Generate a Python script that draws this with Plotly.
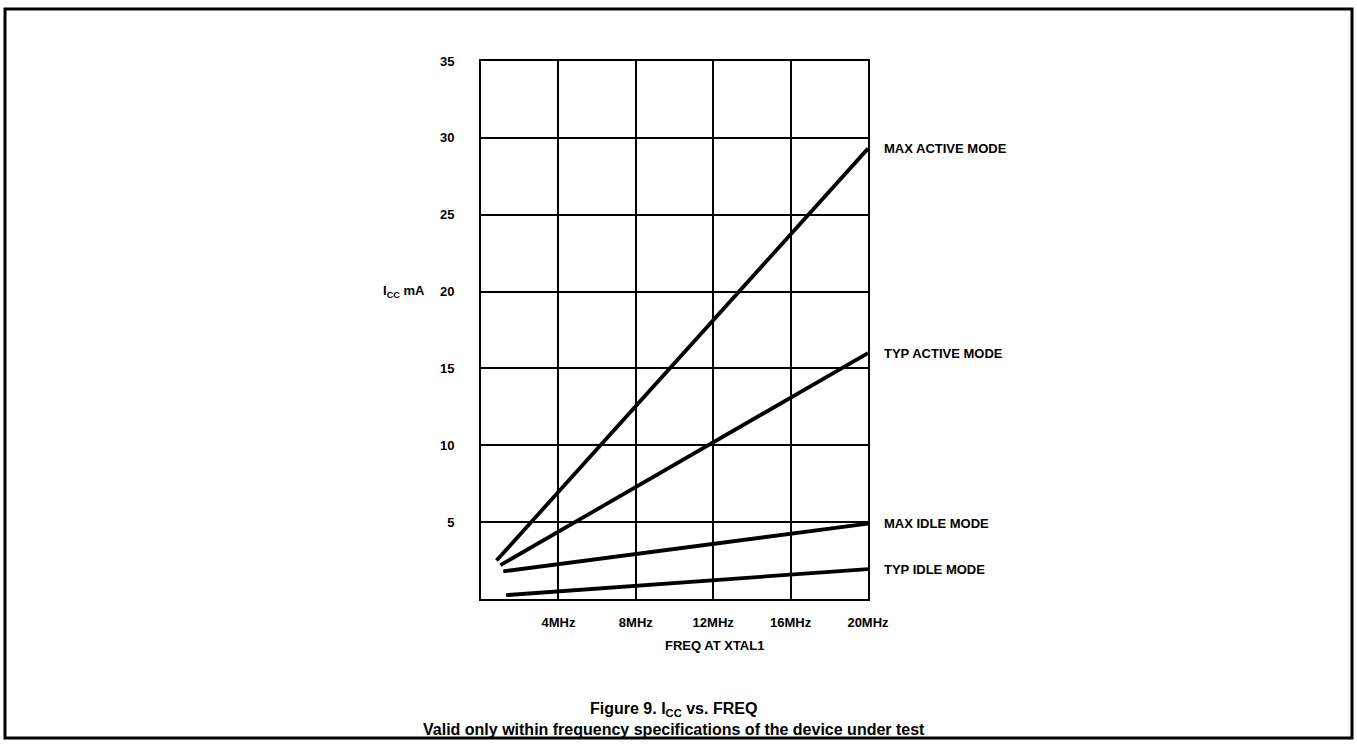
import plotly.graph_objects as go

# Data (frequency in MHz, current in mA)
series_names = ["MAX ACTIVE MODE", "TYP ACTIVE MODE", "MAX IDLE MODE", "TYP IDLE MODE"]
max_active_freq = [0.8, 20]
max_active_icc = [2.5, 29.3]
typ_active_freq = [1.0, 20]
typ_active_icc = [2.2, 16.0]
max_idle_freq = [1.15, 20]
max_idle_icc = [1.8, 4.9]
typ_idle_freq = [1.3, 20]
typ_idle_icc = [0.25, 1.95]

x_tick_vals = [4, 8, 12, 16, 20]
x_tick_text = ["4MHz", "8MHz", "12MHz", "16MHz", "20MHz"]
y_tick_vals = [5, 10, 15, 20, 25, 30, 35]

FONT = "Liberation Sans, Arial, Helvetica, sans-serif"

fig = go.Figure()
all_series = [
    (max_active_freq, max_active_icc),
    (typ_active_freq, typ_active_icc),
    (max_idle_freq, max_idle_icc),
    (typ_idle_freq, typ_idle_icc),
]
for name, (fx, fy) in zip(series_names, all_series):
    fig.add_trace(go.Scatter(x=fx, y=fy, mode="lines", name=name,
                             line=dict(color="black", width=3.8),
                             showlegend=False, hoverinfo="skip"))
    fig.add_annotation(x=fx[-1], y=fy[-1], xref="x", yref="y",
                       text="<b>%s</b>" % name, showarrow=False,
                       xanchor="left", yanchor="middle", xshift=14,
                       font=dict(family=FONT, size=13, color="black"))

fig.update_xaxes(range=[0, 20], tickvals=x_tick_vals, ticktext=x_tick_text,
                 showgrid=True, gridcolor="black", gridwidth=2,
                 showline=True, linecolor="black", linewidth=2, mirror=True,
                 zeroline=False, ticks="", ticklabelstandoff=10,
                 tickfont=dict(family=FONT, size=13, color="black", weight="bold"))
fig.update_yaxes(range=[0, 35], tickvals=y_tick_vals,
                 showgrid=True, gridcolor="black", gridwidth=2,
                 showline=True, linecolor="black", linewidth=2, mirror=True,
                 zeroline=False, ticks="", ticklabelstandoff=22,
                 tickfont=dict(family=FONT, size=13, color="black", weight="bold"))

# x-axis title
fig.add_annotation(xref="paper", yref="paper", x=0.5, y=0, yshift=-46, xshift=40,
                   text="<b>FREQ AT XTAL1</b>", showarrow=False,
                   xanchor="center", yanchor="middle",
                   font=dict(family=FONT, size=13, color="black"))

# y-axis label
fig.add_annotation(xref="paper", yref="y", x=0, y=20, xshift=-54,
                   text="<b>I<sub>CC</sub> mA</b>", showarrow=False,
                   xanchor="right", yanchor="middle",
                   font=dict(family=FONT, size=13, color="black"))

# caption
fig.add_annotation(xref="paper", yref="paper", x=0.5, y=0, yshift=-110,
                   text="<b>Figure 9. I<sub>CC</sub> vs. FREQ</b>", showarrow=False,
                   xanchor="center", yanchor="middle", xshift=-1,
                   font=dict(family=FONT, size=16, color="black"))
fig.add_annotation(xref="paper", yref="paper", x=0.5, y=0, yshift=-130,
                   text="<b>Valid only within frequency specifications of the device under test</b>",
                   showarrow=False, xanchor="center", yanchor="middle", xshift=-1,
                   font=dict(family=FONT, size=16, color="black"))

# outer frame
fig.add_shape(type="rect", xref="paper", yref="paper",
              x0=-476 / 387, x1=1 + 484 / 387, y0=-139 / 538, y1=1 + 52 / 538,
              line=dict(color="black", width=3))

fig.update_layout(width=1357, height=745, autosize=False,
                  margin=dict(l=481, r=489, t=61, b=146),
                  plot_bgcolor="white", paper_bgcolor="white",
                  font=dict(family=FONT, color="black"))

fig.write_html("out.html", config={"displayModeBar": False},
               post_script="document.body.style.margin='0';document.body.style.overflow='hidden';")
